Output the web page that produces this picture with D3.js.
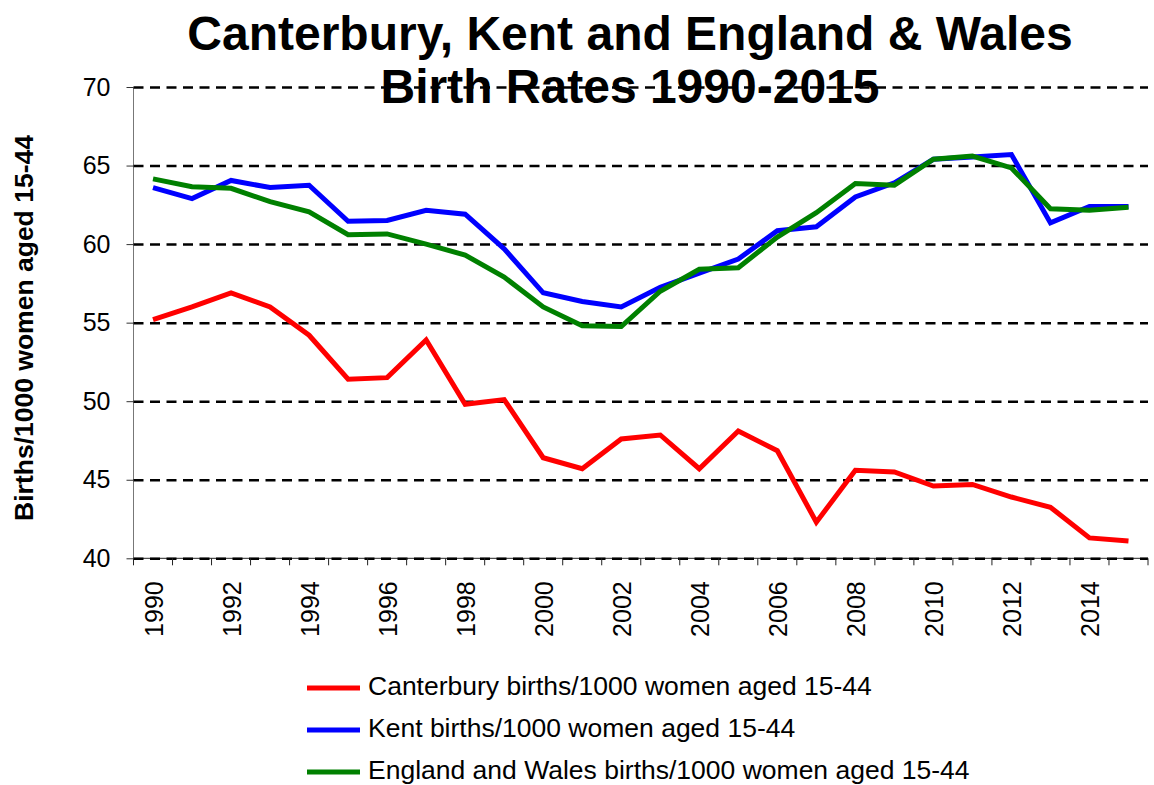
<!DOCTYPE html>
<html><head><meta charset="utf-8">
<script src="https://cdn.jsdelivr.net/npm/d3@7"></script>
<style>body{margin:0;background:#fff;} svg{display:block;font-family:"Liberation Sans",Arial,sans-serif;}</style>
</head><body>
<svg id="c" width="1154" height="785"></svg>
<script>
const years = d3.range(1990, 2016);
const canterbury = [55.2,56.0,56.9,56.0,54.2,51.4,51.5,53.9,49.8,50.1,46.4,45.7,47.6,47.85,45.7,48.1,46.85,42.3,45.6,45.5,44.6,44.7,43.9,43.25,41.3,41.1];
const kent = [63.6,62.9,64.05,63.6,63.75,61.45,61.5,62.15,61.9,59.7,56.9,56.35,56.0,57.25,58.15,59.05,60.85,61.1,63.0,63.9,65.4,65.55,65.7,61.35,62.4,62.4];
const englandWales = [64.15,63.65,63.55,62.7,62.05,60.6,60.65,60.0,59.3,57.9,56.0,54.8,54.75,57.0,58.4,58.5,60.45,62.0,63.85,63.75,65.4,65.6,64.85,62.25,62.15,62.35];
const yTicks = [40,45,50,55,60,65,70];
const seriesNames = ["Canterbury births/1000 women aged 15-44","Kent births/1000 women aged 15-44","England and Wales births/1000 women aged 15-44"];
const seriesColors = ["#FF0000","#0000FF","#008000"];
const titleLines = ["Canterbury, Kent and England & Wales","Birth Rates 1990-2015"];
const yLabel = "Births/1000 women aged 15-44";

const svg = d3.select("#c");
const L = 133.5, R = 1148, T = 87, B = 558.3;
const x = d3.scaleBand().domain(years).range([L, R]).padding(0);
const y = d3.scaleLinear().domain([40,70]).range([B, T]);

// title
svg.append("g").selectAll("text").data(titleLines).join("text")
  .attr("x", 630).attr("y", (d,i)=> i===0 ? 50 : 103)
  .attr("text-anchor","middle").attr("font-weight","bold").attr("font-size", 48)
  .text(d=>d);

// y axis line
svg.append("line").attr("x1",L).attr("x2",L).attr("y1",T).attr("y2",B)
  .attr("stroke","#777").attr("stroke-width",1);
// bottom axis line
svg.append("line").attr("x1",L).attr("x2",R).attr("y1",B).attr("y2",B)
  .attr("stroke","#222").attr("stroke-width",1);

// gridlines
const grid = svg.append("g").attr("transform",`translate(${L},0)`)
  .call(d3.axisLeft(y).tickValues(yTicks).tickSize(-(R-L)).tickFormat(""));
grid.select(".domain").remove();
grid.selectAll("line").attr("stroke","#000").attr("stroke-width",2.5).attr("stroke-dasharray","10,6.5");

// y axis ticks & labels
const ya = svg.append("g").attr("transform",`translate(${L},0)`)
  .call(d3.axisLeft(y).tickValues(yTicks).tickSize(7).tickPadding(16));
ya.select(".domain").remove();
ya.selectAll("line").attr("stroke","#333").attr("stroke-width",1);
ya.selectAll("text").attr("font-size",25).attr("fill","#000").attr("font-family","Liberation Sans, Arial, sans-serif");

// x boundary ticks
svg.append("g").selectAll("line").data(years.concat([null])).join("line")
  .attr("x1", d => d===null ? R : x(d)).attr("x2", d => d===null ? R : x(d))
  .attr("y1", B).attr("y2", B+7).attr("stroke","#222").attr("stroke-width",1);

// x labels
const xa = svg.append("g").attr("transform",`translate(0,${B})`)
  .call(d3.axisBottom(x).tickValues(years.filter(v=>v%2===0)).tickSize(0).tickFormat(d3.format("d")));
xa.select(".domain").remove();
xa.selectAll("text").attr("font-size",25).attr("fill","#000").attr("font-family","Liberation Sans, Arial, sans-serif")
  .attr("text-anchor","end").attr("transform","rotate(-90)")
  .attr("x",-23).attr("y",0).attr("dy","0.4em");

// y label
svg.append("text").attr("transform","translate(33,328) rotate(-90)")
  .attr("text-anchor","middle").attr("font-weight","bold").attr("font-size",26.5).text(yLabel);

// lines
const line = d3.line().x((d,i)=> x(years[i]) + x.bandwidth()/2).y(d=>y(d));
const allSeries = [canterbury, kent, englandWales];
svg.append("g").selectAll("path").data(allSeries).join("path")
  .attr("d", line).attr("fill","none").attr("stroke",(d,i)=>seriesColors[i])
  .attr("stroke-width",5).attr("stroke-linejoin","miter");

// legend
const lg = svg.append("g").selectAll("g").data(seriesNames).join("g")
  .attr("transform",(d,i)=>`translate(0,${688 + i*42})`);
lg.append("line").attr("x1",307).attr("x2",360).attr("y1",0).attr("y2",0)
  .attr("stroke",(d,i)=>seriesColors[i]).attr("stroke-width",5);
lg.append("text").attr("x",368).attr("y",6.5).attr("font-size",26.5).text(d=>d);
</script>
</body></html>
